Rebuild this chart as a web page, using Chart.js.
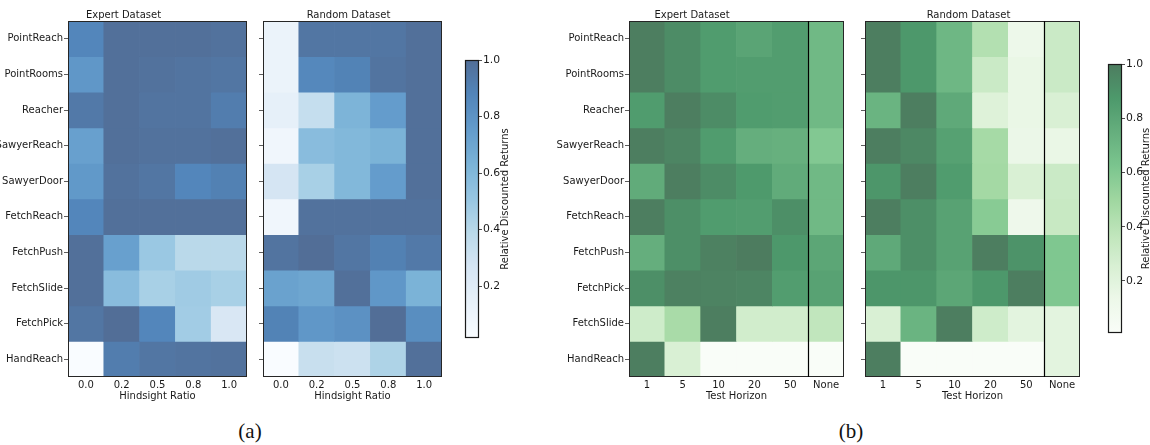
<!DOCTYPE html>
<html><head><meta charset="utf-8">
<script src="https://cdn.jsdelivr.net/npm/chart.js@4.4.1/dist/chart.umd.min.js"></script>
<style>
html,body{margin:0;padding:0;background:#fff}
body{width:1150px;height:445px;position:relative;overflow:hidden;font-family:"DejaVu Sans",sans-serif}
canvas{position:absolute;top:0;display:block}
.cap{position:absolute;font-family:"Liberation Serif","Times New Roman",serif;font-size:21px;line-height:21px;color:#111;top:421px;transform:translateX(-50%)}
</style></head><body>
<canvas id="a1" width="250" height="410" style="left:0px"></canvas>
<canvas id="a2" width="190" height="410" style="left:255px"></canvas>
<canvas id="cba" width="80" height="410" style="left:455px"></canvas>
<canvas id="b1" width="307" height="410" style="left:540px"></canvas>
<canvas id="b2" width="226" height="410" style="left:857px"></canvas>
<canvas id="cbb" width="62" height="410" style="left:1098px"></canvas>
<div class="cap" style="left:250px">(a)</div>
<div class="cap" style="left:851px">(b)</div>
<script>
// ---------- data ----------
const hindsightRatios = ['0.0','0.2','0.5','0.8','1.0'];
const testHorizons = ['1','5','10','20','50','None'];
const tasksA = ['PointReach','PointRooms','Reacher','SawyerReach','SawyerDoor','FetchReach','FetchPush','FetchSlide','FetchPick','HandReach'];
const tasksB = ['PointReach','PointRooms','Reacher','SawyerReach','SawyerDoor','FetchReach','FetchPush','FetchPick','FetchSlide','HandReach'];

const expertHindsight = [
  [0.87,0.99,0.99,0.99,0.98],
  [0.78,0.99,0.98,0.97,0.96],
  [0.94,0.99,0.97,0.97,0.92],
  [0.73,0.99,0.98,0.98,0.99],
  [0.77,0.98,0.96,0.87,0.90],
  [0.87,0.99,0.99,0.99,0.99],
  [0.99,0.73,0.50,0.39,0.39],
  [0.99,0.57,0.45,0.48,0.45],
  [0.96,1.00,0.87,0.47,0.25],
  [0.016,0.92,0.96,0.97,0.98]
];
const randomHindsight = [
  [0.12,0.96,0.96,0.96,0.99],
  [0.12,0.86,0.89,0.97,0.99],
  [0.15,0.34,0.62,0.75,0.99],
  [0.08,0.57,0.60,0.63,0.99],
  [0.27,0.45,0.60,0.75,0.99],
  [0.08,0.98,0.98,0.98,0.98],
  [0.97,1.00,0.96,0.90,0.94],
  [0.72,0.70,0.99,0.78,0.63],
  [0.89,0.78,0.81,1.00,0.83],
  [0.02,0.33,0.31,0.43,0.99]
];
const expertHorizon = [
  [0.99,0.93,0.86,0.81,0.85,0.69],
  [0.99,0.93,0.86,0.85,0.85,0.69],
  [0.86,0.99,0.93,0.86,0.85,0.69],
  [0.99,0.96,0.86,0.75,0.74,0.60],
  [0.77,0.99,0.93,0.87,0.77,0.69],
  [0.99,0.92,0.86,0.85,0.92,0.69],
  [0.75,0.92,0.98,1.00,0.88,0.80],
  [0.92,0.98,0.97,0.96,0.85,0.82],
  [0.30,0.46,0.99,0.29,0.29,0.36],
  [0.99,0.25,0.008,0.008,0.008,0.01]
];
const randomHorizon = [
  [0.99,0.88,0.70,0.42,0.13,0.32],
  [0.99,0.88,0.70,0.32,0.15,0.32],
  [0.72,0.99,0.78,0.22,0.15,0.25],
  [0.99,0.95,0.83,0.47,0.14,0.15],
  [0.89,0.99,0.86,0.48,0.25,0.32],
  [0.99,0.92,0.82,0.58,0.12,0.33],
  [0.78,0.92,0.82,0.99,0.90,0.61],
  [0.89,0.89,0.80,0.88,0.99,0.61],
  [0.25,0.72,0.99,0.30,0.19,0.19],
  [0.99,0.008,0.008,0.008,0.008,0.19]
];
const colorbarTicks = [0.2,0.4,0.6,0.8,1.0];
const rangeA = [0.016, 1.0];
const rangeB = [0.008, 1.0];

// ---------- colormaps (matplotlib Blues / Greens, alpha 0.7 on white) ----------
const BLUES = ['#f7fbff','#deebf7','#c6dbef','#9ecae1','#6baed6','#4292c6','#2171b5','#08519c','#08306b'];
const GREENS = ['#f7fcf5','#e5f5e0','#c7e9c0','#a1d99b','#74c476','#41ab5d','#238b45','#006d2c','#00441b'];
const ALPHA = 0.7;
function hex(h){return [parseInt(h.slice(1,3),16),parseInt(h.slice(3,5),16),parseInt(h.slice(5,7),16)];}
function cmap(stops,t){
  t=Math.max(0,Math.min(1,t));
  const p=t*(stops.length-1), i=Math.min(stops.length-2,Math.floor(p)), f=p-i;
  const a=hex(stops[i]), b=hex(stops[i+1]);
  const c=a.map((v,k)=>v+(b[k]-v)*f).map(v=>Math.round(ALPHA*v+(1-ALPHA)*255));
  return `rgb(${c[0]},${c[1]},${c[2]})`;
}

const FONT = {family:'"DejaVu Sans", sans-serif', size:10, weight:'normal'};
const TXT = '#1a1a1a';

function framePlugin(sepAfter){
  return {id:'frame', afterDatasetsDraw(chart){
    const {ctx, chartArea:a, scales:{x}} = chart;
    ctx.save();
    ctx.strokeStyle='#262626'; ctx.lineWidth=1;
    ctx.strokeRect(a.left+0.5,a.top+0.5,a.right-a.left-1,a.bottom-a.top-1);
    if(sepAfter!=null){
      const px=Math.round((x.getPixelForValue(sepAfter)+x.getPixelForValue(sepAfter+1))/2)+0.5;
      ctx.strokeStyle='#000'; ctx.lineWidth=1.2;
      ctx.beginPath(); ctx.moveTo(px,a.top); ctx.lineTo(px,a.bottom); ctx.stroke();
    }
    ctx.restore();
  }};
}

function heatmap(id, cols, rows, values, stops, range, o){
  const [vmin,vmax]=range;
  const datasets = rows.map((r,i)=>({
    label:r,
    data:cols.map(()=>1),
    backgroundColor:values[i].map(v=>cmap(stops,(v-vmin)/(vmax-vmin))),
    borderWidth:0, barPercentage:1, categoryPercentage:1
  }));
  new Chart(document.getElementById(id),{
    type:'bar',
    data:{labels:cols,datasets},
    options:{
      responsive:false, animation:false, devicePixelRatio:1,
      layout:{padding:{left:0,right:o.padR,top:0,bottom:0}},
      plugins:{legend:{display:false},tooltip:{enabled:false},
        title:{display:true,text:o.title,font:FONT,color:TXT,padding:{top:9,bottom:0}}},
      scales:{
        x:{stacked:true, grid:{display:false,drawTicks:false}, border:{display:false},
           ticks:{font:FONT,color:TXT,padding:2,maxRotation:0,autoSkip:false},
           title:{display:true,text:o.xTitle,font:FONT,color:TXT,padding:{top:0,bottom:8}},
           afterFit:s=>{s.height=33;}},
        y:{stacked:true, reverse:true, min:0, max:rows.length,
           grid:{drawOnChartArea:false,drawTicks:true,tickLength:4,color:'#333',lineWidth:0.8},
           border:{display:false},
           afterBuildTicks:s=>{s.ticks=rows.map((r,i)=>({value:i+0.5}));},
           ticks:{autoSkip:false,padding:1,font:FONT,color:TXT,
             callback:v=>o.showY?rows[Math.floor(v)]:''},
           afterFit:s=>{s.width=o.yWidth;}}
      }
    },
    plugins:[framePlugin(o.sepAfter)]
  });
}

function colorbar(id, stops, range, o){
  const [vmin,vmax]=range;
  new Chart(document.getElementById(id),{
    type:'bar',
    data:{labels:[''],datasets:[{
      data:[[vmin,vmax]],
      backgroundColor:(c)=>{
        const ch=c.chart; if(!ch.chartArea) return '#ccc';
        const y=ch.scales.y;
        const g=ch.ctx.createLinearGradient(0,y.getPixelForValue(vmin),0,y.getPixelForValue(vmax));
        for(let k=0;k<=40;k++) g.addColorStop(k/40,cmap(stops,k/40));
        return g;
      },
      borderWidth:0, barPercentage:1, categoryPercentage:1
    }]},
    options:{
      responsive:false, animation:false, devicePixelRatio:1,
      layout:{padding:{left:10,right:0,top:o.top,bottom:o.bottom}},
      plugins:{legend:{display:false},tooltip:{enabled:false}},
      scales:{
        x:{display:false},
        y:{position:'right', min:vmin, max:vmax,
           grid:{drawOnChartArea:false,drawTicks:true,tickLength:3,color:'#222',lineWidth:0.8},
           border:{display:false},
           afterBuildTicks:s=>{s.ticks=colorbarTicks.map(v=>({value:v}));},
           ticks:{autoSkip:false,padding:1,font:{family:FONT.family,size:10.8},color:TXT,callback:v=>v.toFixed(1)},
           afterFit:s=>{s.width=o.axisW;}}
      }
    },
    plugins:[{id:'cbframe',afterDatasetsDraw(chart){
      const {ctx,chartArea:a}=chart;
      ctx.save();
      ctx.strokeStyle='#1a1a1a'; ctx.lineWidth=1.2;
      ctx.strokeRect(a.left+0.5,a.top+0.5,a.right-a.left-1,a.bottom-a.top-1);
      ctx.translate(a.right+o.labelDx,(a.top+a.bottom)/2);
      ctx.rotate(-Math.PI/2);
      ctx.font=`${FONT.size}px ${FONT.family}`;
      ctx.fillStyle=TXT; ctx.textAlign='center'; ctx.textBaseline='middle';
      ctx.fillText('Relative Discounted Returns',0,0);
      ctx.restore();
    }}]
  });
}

heatmap('a1',hindsightRatios,tasksA,expertHindsight,BLUES,rangeA,
  {title:'Expert Dataset',xTitle:'Hindsight Ratio',showY:true,yWidth:68,padR:3});
heatmap('a2',hindsightRatios,tasksA,randomHindsight,BLUES,rangeA,
  {title:'Random Dataset',xTitle:'Hindsight Ratio',showY:false,yWidth:8,padR:3});
colorbar('cba',BLUES,rangeA,{top:60,bottom:72,axisW:56,labelDx:26});
heatmap('b1',testHorizons,tasksB,expertHorizon,GREENS,rangeB,
  {title:'Expert Dataset',xTitle:'Test Horizon',showY:true,yWidth:89,padR:3,sepAfter:4});
heatmap('b2',testHorizons,tasksB,randomHorizon,GREENS,rangeB,
  {title:'Random Dataset',xTitle:'Test Horizon',showY:false,yWidth:8,padR:3,sepAfter:4});
colorbar('cbb',GREENS,rangeB,{top:64,bottom:77,axisW:38,labelDx:24});
</script>
</body></html>
